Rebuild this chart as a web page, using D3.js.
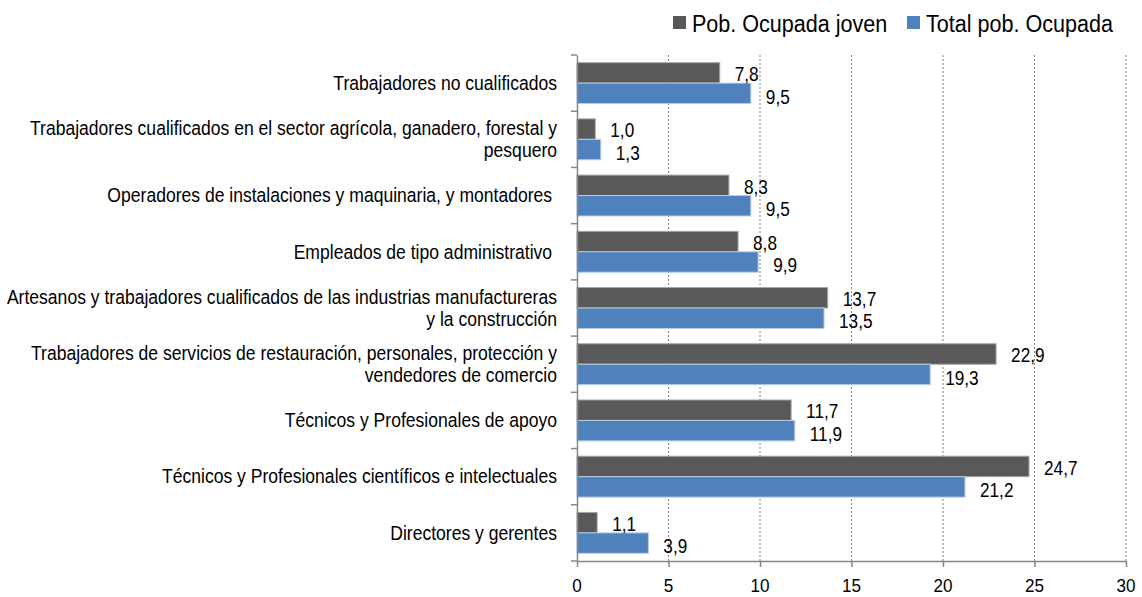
<!DOCTYPE html>
<html>
<head>
<meta charset="utf-8">
<script src="https://cdn.jsdelivr.net/npm/d3@7"></script>
<style>
  body { margin: 0; background: #fff; }
  text { font-family: "Liberation Sans", Arial, sans-serif; fill: #000; }
</style>
</head>
<body>
<div id="vis"></div>
<script>
// categories, top to bottom (lines split where the label wraps)
var categories = [
	['Trabajadores no cualificados'],
	['Trabajadores cualificados en el sector agrícola, ganadero, forestal y', 'pesquero'],
	['Operadores de instalaciones y maquinaria, y montadores '],
	['Empleados de tipo administrativo '],
	['Artesanos y trabajadores cualificados de las industrias manufactureras', 'y la construcción'],
	['Trabajadores de servicios de restauración, personales, protección y', 'vendedores de comercio'],
	['Técnicos y Profesionales de apoyo'],
	['Técnicos y Profesionales científicos e intelectuales'],
	['Directores y gerentes']
];
var joven = [7.8, 1.0, 8.3, 8.8, 13.7, 22.9, 11.7, 24.7, 1.1];
var total = [9.5, 1.3, 9.5, 9.9, 13.5, 19.3, 11.9, 21.2, 3.9];
var seriesNames = ['Pob. Ocupada joven', 'Total pob. Ocupada'];
var xTicks = [0, 5, 10, 15, 20, 25, 30];

var colors = ['#595959', '#4f81bd'];
var strokes = ['#a6a6a6', '#b9cde5'];

var width = 1142, height = 597;
var margin = {top: 55, right: 16, bottom: 36, left: 577};

// narrow look: squeeze the text horizontally
var narrow = 0.88;

var svg = d3.select('#vis')
	.append('svg')
	.attr('width', width)
	.attr('height', height)
	.style('display', 'block');

var x = d3.scaleLinear()
	.domain([0, 30])
	.range([margin.left, width - margin.right]);

var y = d3.scaleBand()
	.domain(d3.range(categories.length))
	.range([margin.top, height - margin.bottom]);

var inner = d3.scaleBand()
	.domain([0, 1])
	.range([0, y.bandwidth()])
	.paddingInner(0)
	.paddingOuter(0.375);

// dotted gridlines
svg.append('g')
	.selectAll('line')
	.data(xTicks.slice(1))
	.enter()
	.append('line')
	.attr('x1', function(d) { return x(d); })
	.attr('x2', function(d) { return x(d); })
	.attr('y1', margin.top)
	.attr('y2', height - margin.bottom)
	.style('stroke', '#7f7f7f')
	.style('stroke-width', 1)
	.style('stroke-dasharray', '2,2');

// bars
var data = [];
categories.forEach(function(c, i) {
	data.push({cat: i, s: 0, value: joven[i]});
	data.push({cat: i, s: 1, value: total[i]});
});

svg.append('g')
	.selectAll('rect')
	.data(data)
	.enter()
	.append('rect')
	.attr('x', x(0))
	.attr('y', function(d) { return y(d.cat) + inner(d.s); })
	.attr('width', function(d) { return x(d.value) - x(0); })
	.attr('height', inner.bandwidth())
	.style('fill', function(d) { return colors[d.s]; })
	.style('stroke', function(d) { return strokes[d.s]; })
	.style('stroke-width', 1);

// value labels
svg.append('g')
	.selectAll('text')
	.data(data)
	.enter()
	.append('text')
	.attr('transform', function(d) {
		var ty = y(d.cat) + inner(d.s) + inner.bandwidth() / 2 + (d.s === 0 ? 1 : 3);
		return 'translate(' + (x(d.value) + 15) + ',' + ty + ') scale(0.84,1)';
	})
	.attr('dy', '0.35em')
	.style('font-size', '20.5px')
	.text(function(d) { return d.value.toFixed(1).replace('.', ','); });

// y axis
svg.append('g')
	.attr('transform', 'translate(' + x(0) + ',0)')
	.call(d3.axisLeft(y).tickValues([]).tickSizeOuter(0))
	.call(function(g) {
		g.select('.domain').style('stroke', '#868686').style('stroke-width', 1.5);
	});

svg.append('g')
	.selectAll('line')
	.data(d3.range(categories.length + 1))
	.enter()
	.append('line')
	.attr('x1', x(0) - 6)
	.attr('x2', x(0))
	.attr('y1', function(d) { return margin.top + d * y.step(); })
	.attr('y2', function(d) { return margin.top + d * y.step(); })
	.style('stroke', '#868686')
	.style('stroke-width', 1.5);

// category labels
var catLabel = svg.append('g')
	.selectAll('text')
	.data(categories)
	.enter()
	.append('text')
	.attr('text-anchor', 'end')
	.style('font-size', '19.5px')
	.attr('transform', function(d, i) {
		return 'translate(' + (x(0) - 20) + ',' + (y(i) + y.bandwidth() / 2) + ') scale(0.9,1)';
	});

catLabel.selectAll('tspan')
	.data(function(d) { return d; })
	.enter()
	.append('tspan')
	.attr('x', 0)
	.attr('y', function(d, j, nodes) {
		var n = nodes.length;
		return (j - (n - 1) / 2) * 22;
	})
	.attr('dy', '0.35em')
	.style('white-space', 'pre')
	.text(function(d) { return d; });

// x axis (labels drawn separately below)
var xAxis = svg.append('g')
	.attr('transform', 'translate(0,' + (height - margin.bottom) + ')')
	.call(d3.axisBottom(x).tickValues(xTicks).tickSize(6).tickFormat('').tickSizeOuter(0));

xAxis.select('.domain').style('stroke', '#868686').style('stroke-width', 1.5);
xAxis.selectAll('.tick line').style('stroke', '#868686').style('stroke-width', 1.5);

svg.append('g')
	.selectAll('text')
	.data(xTicks)
	.enter()
	.append('text')
	.attr('text-anchor', 'middle')
	.attr('transform', function(d) {
		return 'translate(' + x(d) + ',' + (height - 5) + ') scale(0.9,1)';
	})
	.style('font-size', '19px')
	.text(function(d) { return d; });

// legend
var legendX = [673, 907];
var legend = svg.append('g')
	.selectAll('g')
	.data(seriesNames)
	.enter()
	.append('g')
	.attr('transform', function(d, i) { return 'translate(' + legendX[i] + ',16)'; });

legend.append('rect')
	.attr('width', 13)
	.attr('height', 13)
	.style('fill', function(d, i) { return colors[i]; });

legend.append('text')
	.attr('transform', 'translate(19,7) scale(' + narrow + ',1)')
	.attr('dy', '0.35em')
	.style('font-size', '24.5px')
	.text(function(d) { return d; });
</script>
</body>
</html>
